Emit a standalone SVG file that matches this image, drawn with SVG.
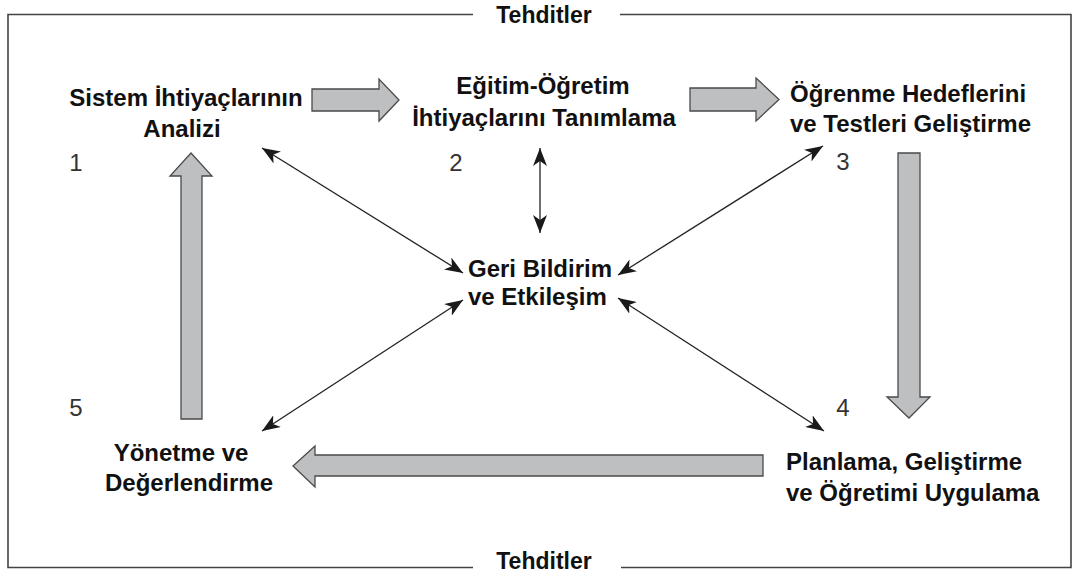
<svg xmlns="http://www.w3.org/2000/svg" width="1079" height="574" viewBox="0 0 1079 574">
  <defs>
    <style>
      .frame { fill: none; stroke: #444; stroke-width: 1.6; }
      .title { font-family: "Liberation Sans", Arial, sans-serif; font-weight: bold; font-size: 23px; fill: #111; }
      .label { font-family: "Liberation Sans", Arial, sans-serif; font-weight: bold; font-size: 24px; fill: #111; }
      .num { font-family: "Liberation Sans", Arial, sans-serif; font-size: 24px; fill: #333; }
      .flow { fill: #bebfc1; stroke: #4a4a4a; stroke-width: 1.3; stroke-linejoin: miter; }
      .link { stroke: #222; stroke-width: 1.3; fill: none; marker-start: url(#tip); marker-end: url(#tip); }
    </style>
    <marker id="tip" viewBox="0 0 18 14" refX="18" refY="7" markerWidth="18" markerHeight="14" markerUnits="userSpaceOnUse" orient="auto-start-reverse">
      <path d="M0,0 L18,7 L0,14 L5,7 z" fill="#1a1a1a"/>
    </marker>
  </defs>

  <rect width="1079" height="574" fill="#fff"/>

  <!-- outer boundary with the two "Tehditler" captions -->
  <g id="boundary">
    <polyline class="frame" points="473,14.5 8,14.5 8,567.5 473,567.5"/>
    <polyline class="frame" points="620,14.5 1071,14.5 1071,567.5 621,567.5"/>
    <text class="title" x="544" y="23" text-anchor="middle">Tehditler</text>
    <text class="title" x="544" y="569" text-anchor="middle">Tehditler</text>
  </g>

  <!-- process steps -->
  <g id="step1">
    <text class="label" x="186" y="106" text-anchor="middle">Sistem İhtiyaçlarının</text>
    <text class="label" x="182" y="137" text-anchor="middle">Analizi</text>
    <text class="num" x="76" y="171" text-anchor="middle">1</text>
  </g>
  <g id="step2">
    <text class="label" x="543" y="94" text-anchor="middle">Eğitim-Öğretim</text>
    <text class="label" x="544" y="126" text-anchor="middle">İhtiyaçlarını Tanımlama</text>
    <text class="num" x="456" y="171" text-anchor="middle">2</text>
  </g>
  <g id="step3">
    <text class="label" x="790" y="102">Öğrenme Hedeflerini</text>
    <text class="label" x="790" y="132">ve Testleri Geliştirme</text>
    <text class="num" x="843" y="170" text-anchor="middle">3</text>
  </g>
  <g id="step4">
    <text class="label" x="786" y="470">Planlama, Geliştirme</text>
    <text class="label" x="786" y="501">ve Öğretimi Uygulama</text>
    <text class="num" x="843" y="416" text-anchor="middle">4</text>
  </g>
  <g id="step5">
    <text class="label" x="181" y="461" text-anchor="middle">Yönetme ve</text>
    <text class="label" x="189" y="491" text-anchor="middle">Değerlendirme</text>
    <text class="num" x="76" y="416" text-anchor="middle">5</text>
  </g>
  <g id="feedback">
    <text class="label" x="468" y="277">Geri Bildirim</text>
    <text class="label" x="468" y="305">ve Etkileşim</text>
  </g>

  <!-- connectors: block arrows of the cycle and the two-way feedback links -->
  <g id="connectors">
    <polygon class="flow" points="312,89 379,89 379,79 399,100 379,121 379,111 312,111"/>
    <polygon class="flow" points="690,88 756,88 756,78 779,99.5 756,121 756,111 690,111"/>
    <polygon class="flow" points="898,153 920,153 920,397 930,397 909,418 887,397 898,397"/>
    <polygon class="flow" points="763,455 315,455 315,446 293,466 315,487 315,476 763,476"/>
    <polygon class="flow" points="181,419 181,176 170,176 191,153 212,176 202,176 202,419"/>

    <line class="link" x1="262" y1="148" x2="463" y2="273"/>
    <line class="link" x1="540" y1="148" x2="540" y2="233"/>
    <line class="link" x1="823" y1="146" x2="618" y2="275"/>
    <line class="link" x1="463" y1="300" x2="262" y2="431"/>
    <line class="link" x1="618" y1="298" x2="824" y2="431"/>
  </g>
</svg>
